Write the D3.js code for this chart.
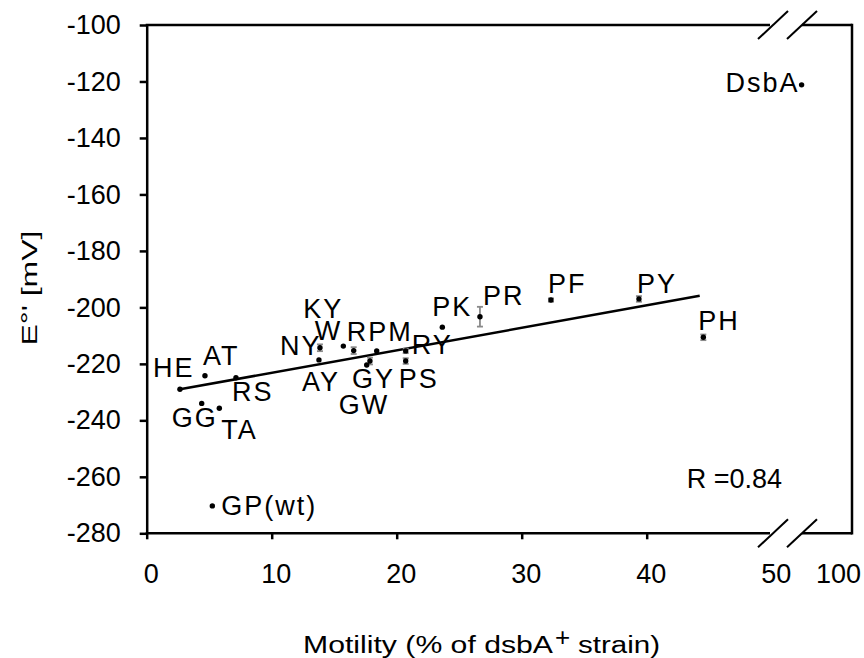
<!DOCTYPE html>
<html>
<head>
<meta charset="utf-8">
<script src="https://cdn.jsdelivr.net/npm/d3@7"></script>
<style>
    body { margin: 0; background: #fff; }
    svg text { font-family: "Liberation Sans", Arial, sans-serif; fill: #000; }
</style>
</head>
<body>
<div class="chart"></div>
<script>
    // mutant data
    var mutants = ["HE", "AT", "RS", "GG", "TA", "NY", "AY", "KY", "W", "RPM", "GY", "GW", "RY", "PS", "PK", "PR", "PF", "PY", "PH", "DsbA", "GP(wt)"];
    var motility = [2.66, 4.66, 7.14, 4.40, 5.81, 13.86, 13.78, 15.73, 16.56, 18.40, 17.86, 17.60, 20.72, 20.72, 23.65, 26.66, 32.34, 39.38, 44.53, 74, 5.25];
    var potential = [-229.0, -224.2, -224.9, -234.0, -235.7, -214.3, -218.6, -213.7, -215.3, -215.4, -219.0, -220.4, -215.4, -219.0, -207.0, -203.3, -197.4, -197.0, -210.6, -121.2, -270.3];
    var potentialErr = [0, 0, 0, 0, 0, 1.2, 0, 0, 1.2, 0, 1.2, 0, 0.8, 1.0, 0, 3.5, 0.6, 1.0, 1.0, 0, 0];

    // regression line end points
    var fitMotility = [2.66, 44.24];
    var fitPotential = [-229.0, -195.9];

    var xTickValues = [0, 10, 20, 30, 40, 50, 100];
    var yTickValues = [-100, -120, -140, -160, -180, -200, -220, -240, -260, -280];
    var corrText = "R =0.84";

    var svgWidth = 864;
    var svgHeight = 658;
    var frameRight = 852;

    var svg = d3.select(".chart")
        .append("svg")
        .attr("width", svgWidth)
        .attr("height", svgHeight);

    // broken x axis: 0-50 then a short piece to 100
    var xScale = d3.scaleLinear()
        .domain([0, 50, 100])
        .range([146.7, 771.7, 834]);

    var yScale = d3.scaleLinear()
        .domain([-280, -100])
        .range([533.3, 25]);

    var yAxis = d3.axisLeft(yScale)
        .tickValues(yTickValues)
        .tickSize(7)
        .tickSizeOuter(0)
        .tickPadding(19)
        .tickFormat(d => String(d));

    var gy = svg.append("g")
        .attr("transform", `translate(${xScale(0)}, 0)`)
        .call(yAxis);
    gy.selectAll("path, line").style("stroke-width", 2.5);
    gy.selectAll("text").style("font-size", "27px").attr("font-family", null);

    var xAxis = d3.axisBottom(xScale)
        .tickValues(xTickValues)
        .tickSize(6)
        .tickFormat(d => String(d));

    var gx = svg.append("g")
        .attr("transform", `translate(0, ${yScale(-280)})`)
        .call(xAxis);
    gx.select(".domain").remove();
    gx.selectAll(".tick").filter(d => d >= 50).select("line").remove();
    gx.selectAll("line").style("stroke-width", 2.5);
    gx.selectAll("text")
        .attr("y", 50)
        .attr("dy", 0)
        .attr("dx", 4)
        .style("font-size", "27px");

    // frame with the break marks
    var breakA = 773, breakB = 802;
    var frame = svg.append("g")
        .attr("fill", "none")
        .attr("stroke", "#000")
        .attr("stroke-width", 2.5);

    [yScale(-280), yScale(-100)].forEach(function(yy) {
        frame.append("line").attr("x1", xScale(0) - 1).attr("x2", breakA - 3).attr("y1", yy).attr("y2", yy);
        frame.append("line").attr("x1", breakB).attr("x2", frameRight).attr("y1", yy).attr("y2", yy);
        [breakA, breakB].forEach(function(bx) {
            frame.append("line")
                .attr("x1", bx - 15).attr("y1", yy + 14)
                .attr("x2", bx + 15).attr("y2", yy - 14)
                .attr("stroke-width", 2);
        });
    });
    frame.append("line")
        .attr("x1", frameRight).attr("x2", frameRight)
        .attr("y1", yScale(-100) - 1.2).attr("y2", yScale(-280) + 1.2);

    // regression line
    var fitLine = d3.line()
        .x(d => xScale(d[0]))
        .y(d => yScale(d[1]));
    svg.append("path")
        .datum(d3.zip(fitMotility, fitPotential))
        .attr("d", fitLine)
        .attr("fill", "none")
        .attr("stroke", "#000")
        .attr("stroke-width", 2.5);

    var data = mutants.map(function(name, i) {
        return { name: name, x: motility[i], y: potential[i], err: potentialErr[i] };
    });

    // error bars
    var errGroup = svg.append("g")
        .attr("stroke", "#8a8a8a")
        .attr("stroke-width", 1.8);
    data.filter(d => d.err > 0).forEach(function(d) {
        var cx = xScale(d.x);
        errGroup.append("line").attr("x1", cx).attr("x2", cx)
            .attr("y1", yScale(d.y - d.err)).attr("y2", yScale(d.y + d.err));
        [d.y - d.err, d.y + d.err].forEach(function(v) {
            errGroup.append("line").attr("x1", cx - 3).attr("x2", cx + 3)
                .attr("y1", yScale(v)).attr("y2", yScale(v));
        });
    });

    svg.append("g").selectAll("circle")
        .data(data)
        .enter()
        .append("circle")
        .attr("cx", d => xScale(d.x))
        .attr("cy", d => yScale(d.y))
        .attr("r", 2.7)
        .attr("fill", "#000");

    // where each label sits relative to its point
    var labelOffset = {
        "HE": [-27, -12], "AT": [-2, -11], "RS": [-4, 23], "GG": [-30, 24], "TA": [2, 31],
        "NY": [-40, 7], "AY": [-17, 31], "KY": [-40, -28], "W": [-39, -11], "RPM": [-30, -10],
        "GY": [-18, 27], "GW": [-28, 49], "RY": [6, 3], "PS": [-7, 27], "PK": [-10, -11],
        "PR": [3, -12], "PF": [-3, -7], "PY": [-2, -6], "PH": [-5, -7], "DsbA": [-76, 7],
        "GP(wt)": [9, 9]
    };

    svg.append("g").selectAll("text")
        .data(data)
        .enter()
        .append("text")
        .attr("x", d => xScale(d.x) + labelOffset[d.name][0])
        .attr("y", d => yScale(d.y) + labelOffset[d.name][1])
        .style("font-size", "27px")
        .style("letter-spacing", "2px")
        .text(d => d.name);

    svg.append("text")
        .attr("x", 686.7)
        .attr("y", 488.3)
        .style("font-size", "27px")
        .text(corrText);

    // axis titles
    svg.append("text")
        .attr("transform", "translate(36.7, 288) rotate(-90)")
        .attr("text-anchor", "middle")
        .attr("textLength", 115)
        .attr("lengthAdjust", "spacingAndGlyphs")
        .style("font-size", "22px")
        .text("E°' [mV]");

    svg.append("text")
        .attr("x", 303)
        .attr("y", 653)
        .attr("textLength", 250)
        .attr("lengthAdjust", "spacingAndGlyphs")
        .style("font-size", "23px")
        .text("Motility (%  of dsbA");
    svg.append("text")
        .attr("x", 555)
        .attr("y", 646)
        .style("font-size", "26px")
        .text("+");
    svg.append("text")
        .attr("x", 578)
        .attr("y", 653)
        .attr("textLength", 82)
        .attr("lengthAdjust", "spacingAndGlyphs")
        .style("font-size", "23px")
        .text("strain)");
</script>
</body>
</html>
